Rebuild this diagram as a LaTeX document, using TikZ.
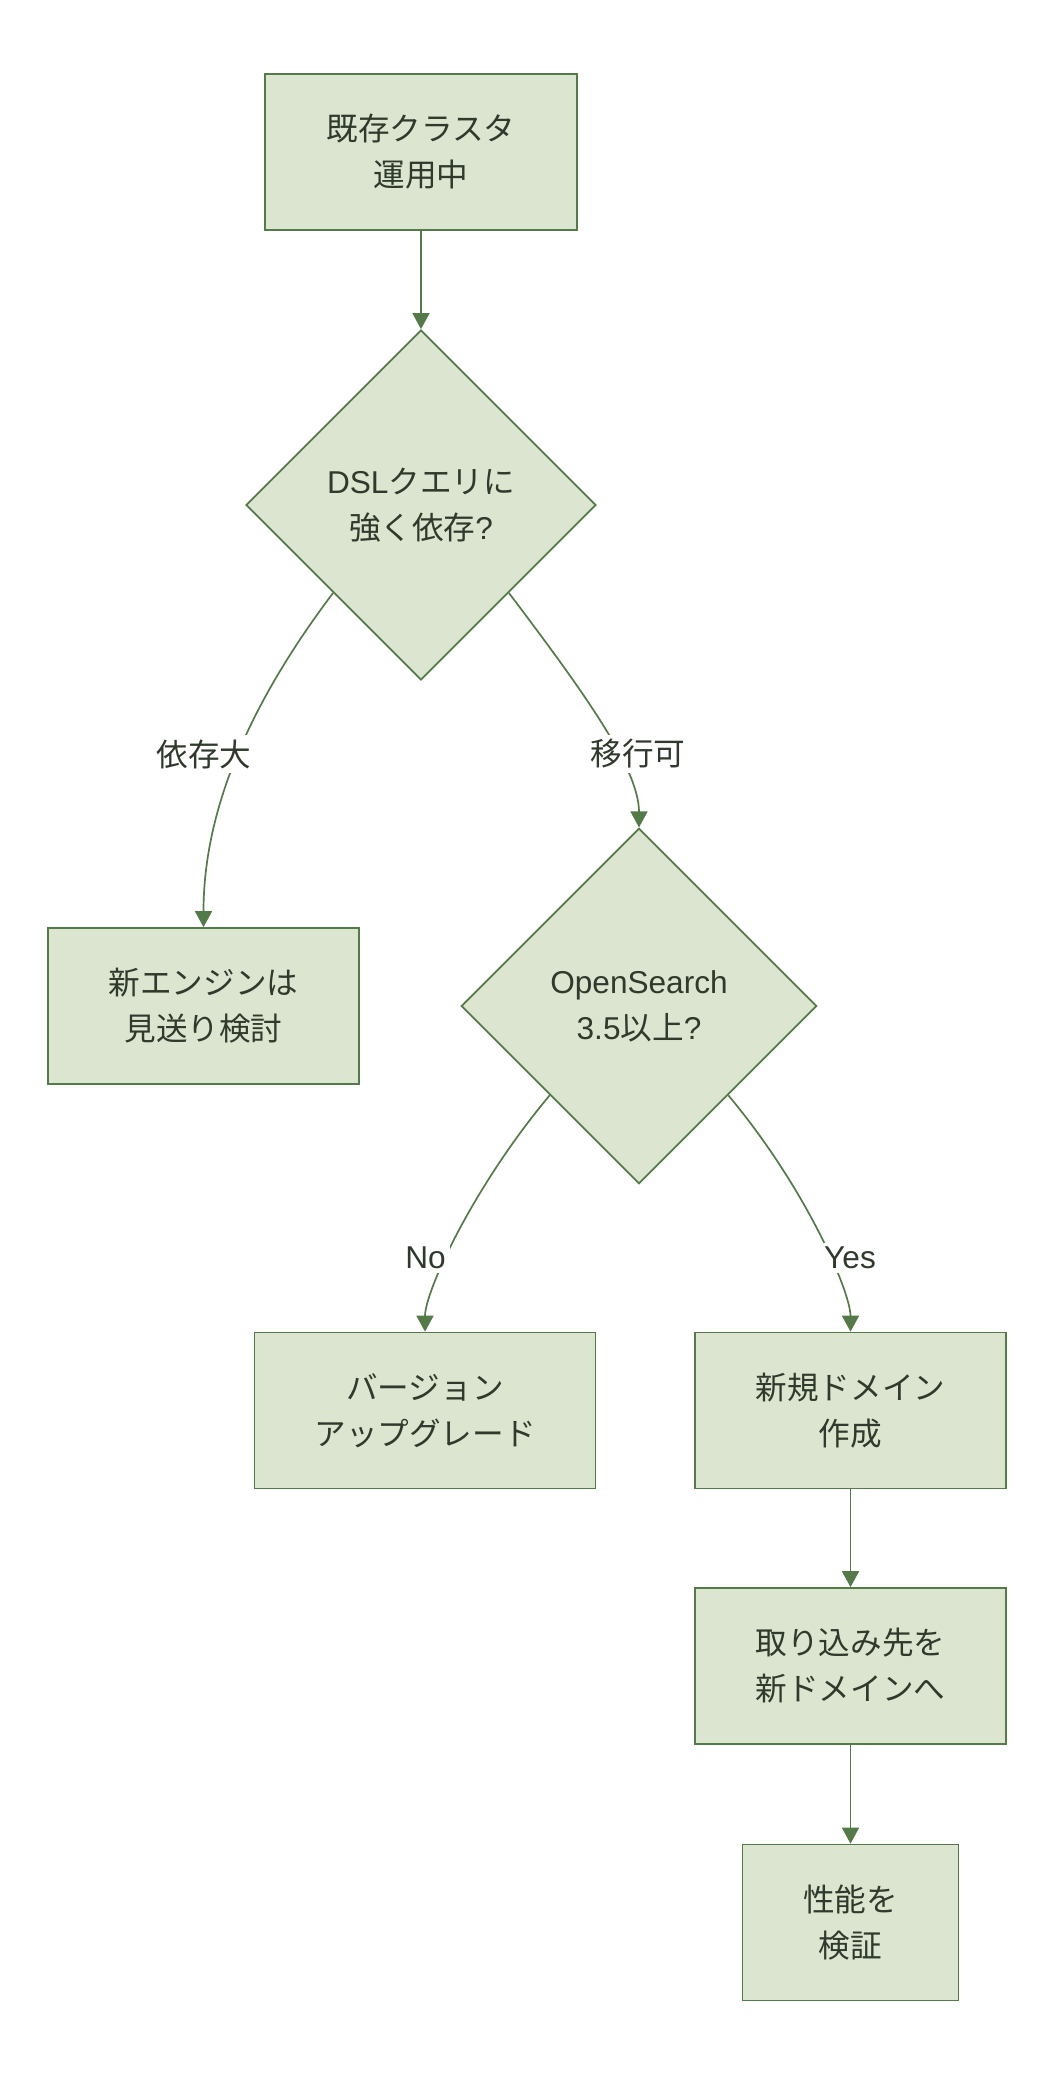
\documentclass[tikz,border=0pt]{standalone}
\usepackage{fontspec}
\setmainfont{Noto Sans CJK JP}
\newfontfamily\latin{Liberation Sans}
\usepackage{tikz}
\usetikzlibrary{positioning}
\usetikzlibrary{arrows.meta}
\usetikzlibrary{shapes.geometric}
\definecolor{sagefill}{RGB}{220, 229, 208}
\definecolor{sageline}{RGB}{85, 122, 74}
\definecolor{sagetext}{RGB}{48, 58, 44}

\begin{document}
\begin{tikzpicture}[
  x=1pt, y=1pt,
  every node/.style={font=\fontsize{15.8}{23}\selectfont, text=sagetext},
  box/.style={rectangle, fill=sagefill, draw=sageline, line width=0.85pt, minimum width=155.8pt, minimum height=78pt, align=center},
  decision/.style={diamond, aspect=1, fill=sagefill, draw=sageline, line width=0.85pt, inner sep=0pt, align=center},
  lbl/.style={fill=white, inner sep=2pt},
  arrow/.style={-{Triangle[width=8.5pt, length=8pt]}, draw=sageline, line width=0.85pt}
]
\useasboundingbox (0,0) rectangle (527,-1039);

% Nodes
\node[box] (running) at (210.5,-76) {既存クラスタ\\運用中};
\node[decision, minimum size=175pt] (dsl) at (210.5,-252.5) {{\latin DSL}クエリに\\強く依存{\latin ?}};
\node[box] (skip) at (101.75,-503) {新エンジンは\\見送り検討};
\node[decision, minimum size=177.7pt] (version) at (319.5,-503) {{\latin OpenSearch}\\{\latin 3.5}以上{\latin ?}};
\node[box, minimum width=170.4pt] (upgrade) at (212.5,-705.25) {バージョン\\アップグレード};
\node[box] (domain) at (425.25,-705.25) {新規ドメイン\\作成};
\node[box] (ingest) at (425.25,-833) {取り込み先を\\新ドメインへ};
\node[box, minimum width=108pt] (perf) at (425.25,-961.25) {性能を\\検証};

% Arrows between nodes
\draw[arrow] (running) -- (dsl);
\draw[arrow] (dsl.south west) .. controls +(-127:61) and +(90:64) .. (skip.north)
  node[lbl] at (102,-377) {依存大};
\draw[arrow] (dsl.south east) .. controls +(-53:59) and +(90:30) .. (version.north)
  node[lbl] at (319,-377) {移行可};
\draw[arrow] (version.south west) .. controls +(-130:60) and +(90:20) .. (upgrade.north)
  node[lbl] at (212.8,-629) {\latin No};
\draw[arrow] (version.south east) .. controls +(-50:60) and +(90:20) .. (domain.north)
  node[lbl] at (425,-629) {\latin Yes};
\draw[arrow] (domain) -- (ingest);
\draw[arrow] (ingest) -- (perf);

\end{tikzpicture}
\end{document}
